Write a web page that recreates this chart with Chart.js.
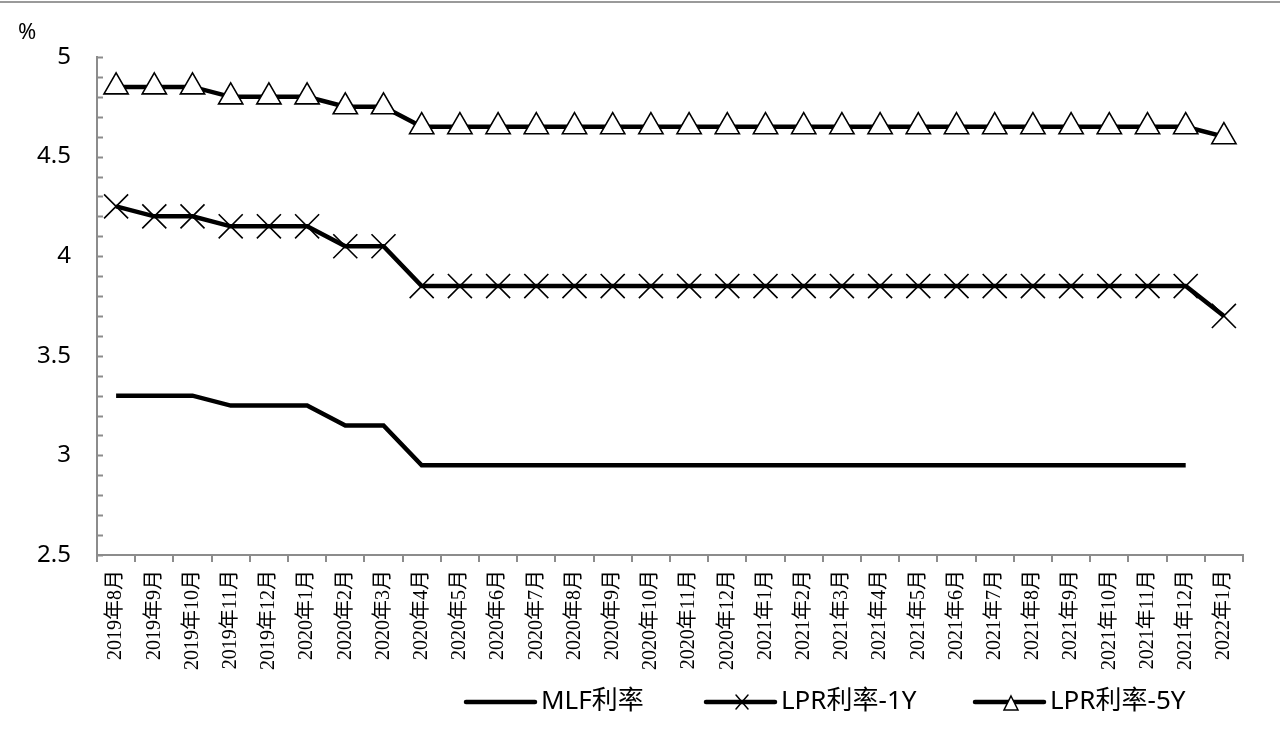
<!DOCTYPE html>
<html>
<head>
<meta charset="utf-8">
<script src="https://cdn.jsdelivr.net/npm/chart.js@4.4.1/dist/chart.umd.min.js"></script>
<style>
  html, body { margin: 0; padding: 0; background: #fff; }
  #wrap { position: relative; width: 1280px; height: 735px; }
</style>
</head>
<body>
<div id="wrap"><canvas id="grafico"></canvas></div>
<script>
const meses = [
  "2019年8月", "2019年9月", "2019年10月", "2019年11月", "2019年12月",
  "2020年1月", "2020年2月", "2020年3月", "2020年4月", "2020年5月",
  "2020年6月", "2020年7月", "2020年8月", "2020年9月", "2020年10月",
  "2020年11月", "2020年12月", "2021年1月", "2021年2月", "2021年3月",
  "2021年4月", "2021年5月", "2021年6月", "2021年7月", "2021年8月",
  "2021年9月", "2021年10月", "2021年11月", "2021年12月", "2022年1月"
];

const mlf = [
  3.3, 3.3, 3.3, 3.25, 3.25, 3.25, 3.15, 3.15, 2.95, 2.95,
  2.95, 2.95, 2.95, 2.95, 2.95, 2.95, 2.95, 2.95, 2.95, 2.95,
  2.95, 2.95, 2.95, 2.95, 2.95, 2.95, 2.95, 2.95, 2.95, null
];

const lpr1y = [
  4.25, 4.2, 4.2, 4.15, 4.15, 4.15, 4.05, 4.05, 3.85, 3.85,
  3.85, 3.85, 3.85, 3.85, 3.85, 3.85, 3.85, 3.85, 3.85, 3.85,
  3.85, 3.85, 3.85, 3.85, 3.85, 3.85, 3.85, 3.85, 3.85, 3.7
];

const lpr5y = [
  4.85, 4.85, 4.85, 4.8, 4.8, 4.8, 4.75, 4.75, 4.65, 4.65,
  4.65, 4.65, 4.65, 4.65, 4.65, 4.65, 4.65, 4.65, 4.65, 4.65,
  4.65, 4.65, 4.65, 4.65, 4.65, 4.65, 4.65, 4.65, 4.65, 4.6
];

const nomesSeries = ["MLF利率", "LPR利率-1Y", "LPR利率-5Y"];

const eixoCinza = "#8c8c8c";

// traços menores do eixo Y, virados para dentro
const tracosY = {
  id: "tracosY",
  afterDraw(chart) {
    const ctx = chart.ctx;
    const y = chart.scales.y;
    ctx.save();
    ctx.strokeStyle = eixoCinza;
    ctx.lineWidth = 2;
    y.ticks.forEach((t) => {
      const py = Math.round(y.getPixelForValue(t.value)) + 0.5;
      ctx.beginPath();
      ctx.moveTo(y.right, py);
      ctx.lineTo(y.right + 6, py);
      ctx.stroke();
    });
    // linha fina no topo e unidade
    ctx.strokeStyle = "#9a9a9a";
    ctx.lineWidth = 2;
    ctx.beginPath();
    ctx.moveTo(0, 2);
    ctx.lineTo(chart.width, 2);
    ctx.stroke();
    ctx.fillStyle = "#000";
    ctx.font = "22px 'Noto Sans', sans-serif";
    ctx.textAlign = "left";
    ctx.textBaseline = "middle";
    ctx.fillText("%", 18, 33);
    ctx.restore();
  }
};

// legenda desenhada à mão: linha com marcador no meio
const inicioLegenda = [466, 706, 975];
const legenda = {
  id: "legenda",
  afterDraw(chart) {
    const ctx = chart.ctx;
    const cy = 702;
    ctx.save();
    ctx.font = "26px 'Noto Sans', 'Noto Sans CJK SC', sans-serif";
    ctx.textBaseline = "middle";
    chart.data.datasets.forEach((ds, i) => {
      const x = inicioLegenda[i];
      ctx.strokeStyle = "#000";
      ctx.lineWidth = 4.5;
      ctx.lineCap = "round";
      ctx.beginPath();
      ctx.moveTo(x, cy);
      ctx.lineTo(x + 69, cy);
      ctx.stroke();
      const mx = x + 36;
      if (ds.pointStyle === "crossRot") {
        ctx.lineWidth = 1.5;
        ctx.beginPath();
        ctx.moveTo(mx - 6, cy - 7);
        ctx.lineTo(mx + 6, cy + 7);
        ctx.moveTo(mx + 6, cy - 7);
        ctx.lineTo(mx - 6, cy + 7);
        ctx.stroke();
      } else if (ds.pointStyle === "triangle") {
        ctx.lineWidth = 1.5;
        ctx.fillStyle = "#fff";
        ctx.beginPath();
        ctx.moveTo(mx, cy - 6);
        ctx.lineTo(mx + 7, cy + 8);
        ctx.lineTo(mx - 7, cy + 8);
        ctx.closePath();
        ctx.fill();
        ctx.stroke();
      }
      ctx.fillStyle = "#000";
      ctx.fillText(ds.label, x + 75, cy);
    });
    ctx.restore();
  }
};

new Chart(document.getElementById("grafico"), {
  type: "line",
  data: {
    labels: meses,
    datasets: [
      {
        label: nomesSeries[0],
        data: mlf,
        borderColor: "#000",
        borderWidth: 4.5,
        pointRadius: 0,
        pointStyle: false
      },
      {
        label: nomesSeries[1],
        data: lpr1y,
        borderColor: "#000",
        borderWidth: 4.5,
        pointStyle: "crossRot",
        pointRadius: 17,
        pointBorderWidth: 1.6,
        pointBorderColor: "#000",
        pointBackgroundColor: "#000"
      },
      {
        label: nomesSeries[2],
        data: lpr5y,
        borderColor: "#000",
        borderWidth: 4.5,
        pointStyle: "triangle",
        pointRadius: 14,
        pointBorderWidth: 1.6,
        pointBorderColor: "#000",
        pointBackgroundColor: "#fff"
      }
    ]
  },
  options: {
    responsive: true,
    maintainAspectRatio: false,
    animation: false,
    events: [],
    layout: { padding: { left: 0, right: 37, top: 57, bottom: 0 } },
    plugins: {
      legend: { display: false },
      tooltip: { enabled: false }
    },
    scales: {
      x: {
        offset: true,
        border: { color: eixoCinza, width: 2 },
        grid: {
          offset: true,
          drawOnChartArea: false,
          drawTicks: true,
          tickLength: 7,
          color: eixoCinza,
          lineWidth: 2
        },
        ticks: {
          autoSkip: false,
          minRotation: 90,
          maxRotation: 90,
          padding: 8,
          color: "#000",
          font: { family: "'Liberation Serif', 'Noto Sans CJK SC', serif", size: 20 }
        },
        afterFit(scale) { scale.height = 180; }
      },
      y: {
        min: 2.5,
        max: 5,
        border: { color: eixoCinza, width: 2 },
        grid: { display: true, drawOnChartArea: false, drawTicks: false },
        ticks: {
          autoSkip: false,
          stepSize: 0.1,
          padding: 26,
          color: "#000",
          font: { family: "'Noto Sans', sans-serif", size: 24 },
          callback(v) {
            const d = v * 2;
            return Math.abs(d - Math.round(d)) < 1e-6 ? String(Math.round(d) / 2) : "";
          }
        },
        afterFit(scale) { scale.width = 97; }
      }
    }
  },
  plugins: [tracosY, legenda]
});
</script>
</body>
</html>
